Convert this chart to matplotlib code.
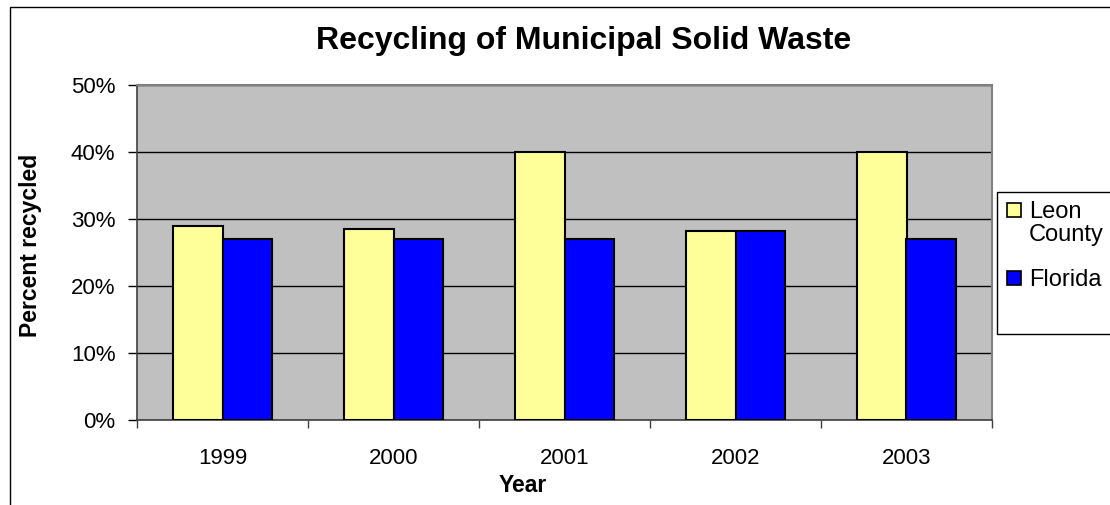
import matplotlib
matplotlib.use("Agg")
import matplotlib.pyplot as plt
import matplotlib.patches as mpatches
from matplotlib.ticker import FuncFormatter, FixedLocator
import numpy as np

plt.rcParams['font.family'] = ['Liberation Sans', 'DejaVu Sans']

years = ["1999", "2000", "2001", "2002", "2003"]
leon = [29.0, 28.5, 40.0, 28.2, 40.0]
florida = [27.0, 27.0, 27.0, 28.2, 27.0]
series_names = ["Leon\nCounty", "Florida"]
series_colors = ["#ffff99", "#0000ff"]
yticks = [0, 10, 20, 30, 40, 50]

W, H = 1110, 505
fig = plt.figure(figsize=(W / 100, H / 100), dpi=100)
fig.patch.set_facecolor("white")

# outer chart border
fig.add_artist(mpatches.Rectangle((10 / W, -0.05), 1.2, 1 - 7 / H + 0.05,
                                  transform=fig.transFigure, fill=False,
                                  edgecolor="black", linewidth=1.0))

ax = fig.add_axes([137 / W, 1 - 420 / H, (992 - 137) / W, (420 - 85) / H])
ax.set_facecolor("#c0c0c0")

x = np.arange(len(years))
bw = 0.29
ax.bar(x - bw / 2, leon, width=bw, color=series_colors[0], edgecolor="black", linewidth=1.5, zorder=3)
ax.bar(x + bw / 2, florida, width=bw, color=series_colors[1], edgecolor="black", linewidth=1.5, zorder=3)

ax.set_xlim(-0.5, len(years) - 0.5)
ax.set_ylim(0, 50)
ax.yaxis.set_major_locator(FixedLocator(yticks))
ax.yaxis.set_major_formatter(FuncFormatter(lambda v, p: f"{int(v)}%"))
ax.grid(axis="y", color="black", linewidth=1.0, zorder=1)
ax.set_axisbelow(True)

ax.set_xticks(x)
ax.set_xticklabels(years, fontsize=16)
ax.tick_params(axis="x", which="major", length=0, pad=20)
ax.set_xticks(np.arange(-0.5, len(years)), minor=True)
ax.tick_params(axis="x", which="minor", length=6, width=1, direction="out", color="#404040")
ax.tick_params(axis="y", length=6.5, width=1, direction="out", labelsize=16, pad=9)

for s in ["top", "right"]:
    ax.spines[s].set_color("#808080")
    ax.spines[s].set_linewidth(1.5)
for s in ["left", "bottom"]:
    ax.spines[s].set_color("#404040")
    ax.spines[s].set_linewidth(1.2)

fig.text(584 / W, 1 - 41 / H, "Recycling of Municipal Solid Waste", ha="center", va="center",
         fontsize=23, fontweight="bold")
fig.text(31 / W, 1 - 245 / H, "Percent recycled", ha="center", va="center", rotation=90,
         fontsize=16.5, fontweight="bold")
fig.text(523 / W, 1 - 485 / H, "Year", ha="center", va="center", fontsize=16.5, fontweight="bold")

# legend box
fig.add_artist(mpatches.Rectangle((997 / W, 1 - 334 / H), 0.2, (334 - 192) / H,
                                  transform=fig.transFigure, fill=True, facecolor="white",
                                  edgecolor="black", linewidth=1.0))
legend_rows = [210, 278]
for name, col, yc in zip(series_names, series_colors, legend_rows):
    fig.add_artist(mpatches.Rectangle((1007 / W, 1 - (yc + 7) / H), 14 / W, 14 / H,
                                      transform=fig.transFigure, facecolor=col,
                                      edgecolor="black", linewidth=1.2))
    fig.text(1029 / W, 1 - (yc - 9) / H, name, ha="left", va="top", fontsize=17,
             linespacing=1.05)

fig.savefig("out.png", dpi=100)
